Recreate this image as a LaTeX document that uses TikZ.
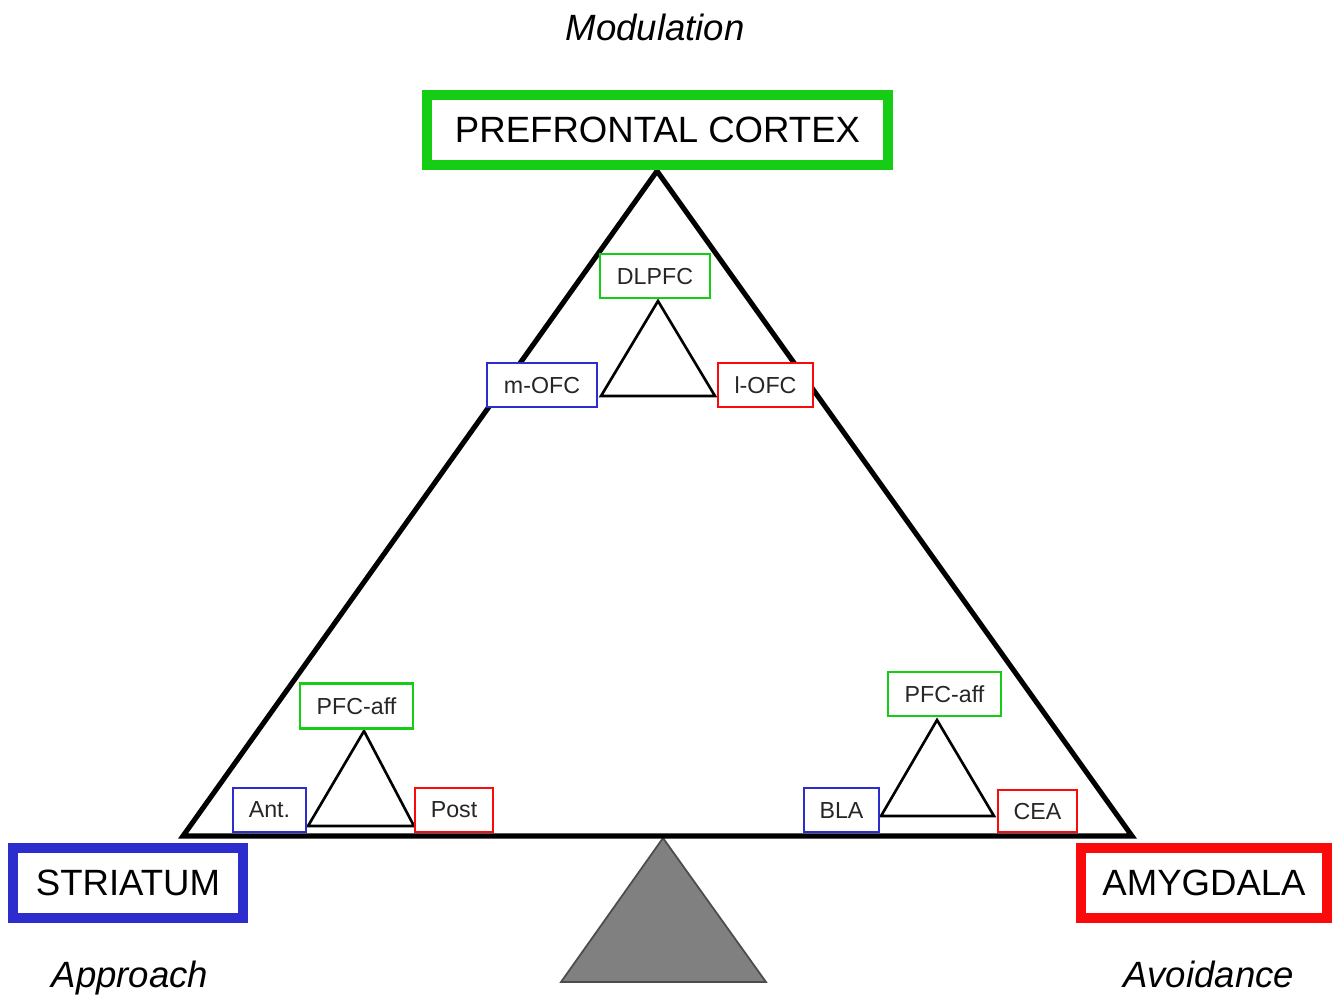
\documentclass[tikz,border=0pt]{standalone}
\usepackage{fontspec}
\setmainfont{Liberation Sans}
\usetikzlibrary{calc}
\definecolor{pfcgreen}{RGB}{20,205,20}
\definecolor{strblue}{RGB}{45,45,205}
\definecolor{amyred}{RGB}{250,10,10}
\definecolor{fulcrumgray}{RGB}{128,128,128}
\tikzset{
  region/.style={draw, fill=white, line width=2.85pt, inner sep=0pt,
    minimum height=0.70cm, font=\fontsize{10.4}{12}\selectfont},
  subregion/.style={draw, fill=white, line width=0.6pt, inner sep=0pt,
    minimum height=0.44cm, text=black!85, font=\fontsize{6.6}{8}\selectfont},
  tendency/.style={anchor=base, font=\fontsize{10.4}{12}\selectfont\itshape},
  beam/.style={line width=1.45pt, line join=miter},
  subtri/.style={line width=0.75pt},
}
\begin{document}
\begin{tikzpicture}[x=0.01cm,y=-0.01cm]
\useasboundingbox (0,0) rectangle (1337,996);
    % fulcrum under the beam
    \filldraw[fill=fulcrumgray, draw=black!70, line width=0.5pt]
        (663,838) -- (561,982) -- (766,982) -- cycle;
    % the big triangle
    \coordinate (apex) at (657,171);
    \coordinate (baseL) at (183,836);
    \coordinate (baseR) at (1132,836);
    \draw[beam] (apex) -- (baseL) -- (baseR) -- cycle;
    % sub-triangles: PFC, striatum, amygdala
    \coordinate (pfcTop) at (658,301);
    \coordinate (pfcL) at (601,396);
    \coordinate (pfcR) at (715,396);
    \coordinate (strTop) at (364,731);
    \coordinate (strL) at (308,826);
    \coordinate (strR) at (414,826);
    \coordinate (amyTop) at (937,720);
    \coordinate (amyL) at (881,816);
    \coordinate (amyR) at (994,816);
    \foreach \t in {pfc,str,amy} {
        \draw[subtri] (\t Top) -- (\t L) -- (\t R) -- cycle;
    }
    % main regions
    \node[region, draw=pfcgreen, minimum width=4.61cm] (pfc) at (657.5,130) {PREFRONTAL CORTEX};
    \node[region, draw=strblue, minimum width=2.29cm] (striatum) at (128,883) {STRIATUM};
    \node[region, draw=amyred, minimum width=2.46cm] (amygdala) at (1204,883) {AMYGDALA};
    % subregions
    \node[subregion, draw=pfcgreen, minimum width=1.10cm] (dlpfc) at (655,276) {DLPFC};
    \node[subregion, draw=strblue, minimum width=1.10cm] (mofc) at (542,385) {m-OFC};
    \node[subregion, draw=amyred, minimum width=0.95cm] (lofc) at (765.5,385) {l-OFC};
    \node[subregion, draw=pfcgreen, minimum width=1.13cm, minimum height=0.45cm] (straff) at (356.5,706) {PFC-aff};
    \node[subregion, draw=strblue, minimum width=0.73cm] (ant) at (269.5,810) {Ant.};
    \node[subregion, draw=amyred, minimum width=0.78cm] (post) at (454,810) {Post};
    \node[subregion, draw=pfcgreen, minimum width=1.13cm] (amyaff) at (944.5,694) {PFC-aff};
    \node[subregion, draw=strblue, minimum width=0.75cm] (bla) at (841.5,810) {BLA};
    \node[subregion, draw=amyred, minimum width=0.79cm, minimum height=0.42cm] (cea) at (1037.5,811) {CEA};
    % tendencies
    \node[tendency] (modulation) at (655,40) {Modulation};
    \node[tendency] (approach) at (130,987) {Approach};
    \node[tendency] (avoidance) at (1209,987) {Avoidance};
\end{tikzpicture}
\end{document}
